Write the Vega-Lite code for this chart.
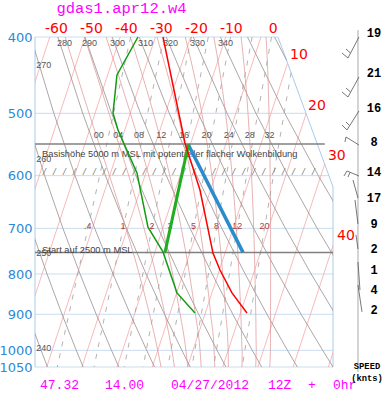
{
"$schema": "https://vega.github.io/schema/vega-lite/v6.json",
"width": 298, "height": 330,
"autosize": {"type": "none"},
"padding": {"left": 35, "top": 37, "right": 50, "bottom": 33},
"background": "white",
"config": {"view": {"stroke": null}},
"datasets": {
"grid": [{"P":400,"X":-33.32,"X2":35.71},{"P":500,"X":-33.32,"X2":43.71},{"P":600,"X":-33.32,"X2":50.17},{"P":700,"X":-33.32,"X2":51.34},{"P":800,"X":-33.32,"X2":51.34},{"P":900,"X":-33.32,"X2":51.34},{"P":1000,"X":-33.32,"X2":51.34},{"P":1050,"X":-33.32,"X2":51.34}],
"frame": [{"id":"r","P":400,"X":35.71},{"id":"r","P":620,"X":51.34},{"id":"r","P":1050,"X":51.34},{"id":"l","P":400,"X":-33.32},{"id":"l","P":1050,"X":-33.32}],
"iso": [{"id":-60,"P":1050,"X":-60},{"id":-60,"P":400,"X":-29.12},{"id":-50,"P":1050,"X":-50},{"id":-50,"P":400,"X":-19.12},{"id":-40,"P":1050,"X":-40},{"id":-40,"P":400,"X":-9.12},{"id":-30,"P":1050,"X":-30},{"id":-30,"P":400,"X":0.88},{"id":-20,"P":1050,"X":-20},{"id":-20,"P":400,"X":10.88},{"id":-10,"P":1050,"X":-10},{"id":-10,"P":400,"X":20.88},{"id":0,"P":1050,"X":0},{"id":0,"P":400,"X":30.88},{"id":10,"P":1050,"X":10},{"id":10,"P":431.8,"X":38.43},{"id":20,"P":1050,"X":20},{"id":20,"P":500.5,"X":43.71},{"id":30,"P":1050,"X":30},{"id":30,"P":580.3,"X":48.98},{"id":40,"P":1050,"X":40},{"id":40,"P":400,"X":70.88},{"id":50,"P":1050,"X":50},{"id":50,"P":400,"X":80.88}],
"dry": [
{"id":240,"P":1050,"X":-29.78},{"id":240,"P":1000,"X":-31.59},{"id":240,"P":900,"X":-35.34},
{"id":250,"P":1050,"X":-19.64},{"id":250,"P":1000,"X":-21.59},{"id":250,"P":900,"X":-25.64},{"id":250,"P":800,"X":-29.9},{"id":250,"P":700,"X":-34.42},
{"id":260,"P":1050,"X":-9.5},{"id":260,"P":1000,"X":-11.59},{"id":260,"P":900,"X":-15.93},{"id":260,"P":800,"X":-20.52},{"id":260,"P":700,"X":-25.39},{"id":260,"P":600,"X":-30.58},{"id":260,"P":500,"X":-36.17},
{"id":270,"P":1050,"X":0.64},{"id":270,"P":1000,"X":-1.59},{"id":270,"P":900,"X":-6.23},{"id":270,"P":800,"X":-11.14},{"id":270,"P":700,"X":-16.36},{"id":270,"P":600,"X":-21.94},{"id":270,"P":500,"X":-27.96},{"id":270,"P":400,"X":-34.51},
{"id":280,"P":1050,"X":10.78},{"id":280,"P":1000,"X":8.41},{"id":280,"P":900,"X":3.47},{"id":280,"P":800,"X":-1.76},{"id":280,"P":700,"X":-7.33},{"id":280,"P":600,"X":-13.3},{"id":280,"P":500,"X":-19.76},{"id":280,"P":400,"X":-26.81},
{"id":290,"P":1050,"X":20.92},{"id":290,"P":1000,"X":18.41},{"id":290,"P":900,"X":13.17},{"id":290,"P":800,"X":7.62},{"id":290,"P":700,"X":1.7},{"id":290,"P":600,"X":-4.66},{"id":290,"P":500,"X":-11.56},{"id":290,"P":400,"X":-19.12},
{"id":300,"P":1050,"X":31.07},{"id":300,"P":1000,"X":28.41},{"id":300,"P":900,"X":22.88},{"id":300,"P":800,"X":17.01},{"id":300,"P":700,"X":10.73},{"id":300,"P":600,"X":3.98},{"id":300,"P":500,"X":-3.36},{"id":300,"P":400,"X":-11.42},
{"id":310,"P":1050,"X":41.21},{"id":310,"P":1000,"X":38.41},{"id":310,"P":900,"X":32.58},{"id":310,"P":800,"X":26.39},{"id":310,"P":700,"X":19.76},{"id":310,"P":600,"X":12.62},{"id":310,"P":500,"X":4.84},{"id":310,"P":400,"X":-3.73},
{"id":320,"P":1050,"X":51.35},{"id":320,"P":1000,"X":48.41},{"id":320,"P":900,"X":42.28},{"id":320,"P":800,"X":35.77},{"id":320,"P":700,"X":28.79},{"id":320,"P":600,"X":21.26},{"id":320,"P":500,"X":13.04},{"id":320,"P":400,"X":3.97},
{"id":330,"P":1050,"X":61.49},{"id":330,"P":1000,"X":58.41},{"id":330,"P":900,"X":51.99},{"id":330,"P":800,"X":45.15},{"id":330,"P":700,"X":37.82},{"id":330,"P":600,"X":29.9},{"id":330,"P":500,"X":21.25},{"id":330,"P":400,"X":11.66},
{"id":340,"P":1000,"X":68.41},{"id":340,"P":900,"X":61.69},{"id":340,"P":800,"X":54.53},{"id":340,"P":700,"X":46.85},{"id":340,"P":600,"X":38.54},{"id":340,"P":500,"X":29.45},{"id":340,"P":400,"X":19.35},
{"id":350,"P":800,"X":63.91},{"id":350,"P":700,"X":55.88},{"id":350,"P":600,"X":47.18},{"id":350,"P":500,"X":37.65},{"id":350,"P":400,"X":27.05},
{"id":360,"P":428,"X":38.15},{"id":360,"P":400,"X":34.74}],
"moist": [
{"id":0,"P":1050,"X":2.5},{"id":0,"P":1000,"X":1.56},{"id":0,"P":900,"X":-0.78},{"id":0,"P":800,"X":-3.72},{"id":0,"P":700,"X":-7.47},{"id":0,"P":600,"X":-12.16},{"id":0,"P":500,"X":-17.96},{"id":0,"P":400,"X":-24.76},
{"id":4,"P":1050,"X":6.3},{"id":4,"P":1000,"X":5.56},{"id":4,"P":900,"X":3.57},{"id":4,"P":800,"X":1.01},{"id":4,"P":700,"X":-2.34},{"id":4,"P":600,"X":-6.69},{"id":4,"P":500,"X":-12.31},{"id":4,"P":400,"X":-19.25},
{"id":8,"P":1050,"X":10.1},{"id":8,"P":1000,"X":9.56},{"id":8,"P":900,"X":7.92},{"id":8,"P":800,"X":5.77},{"id":8,"P":700,"X":2.92},{"id":8,"P":600,"X":-0.99},{"id":8,"P":500,"X":-6.22},{"id":8,"P":400,"X":-13.12},
{"id":12,"P":1050,"X":13.9},{"id":12,"P":1000,"X":13.56},{"id":12,"P":900,"X":12.26},{"id":12,"P":800,"X":10.56},{"id":12,"P":700,"X":8.25},{"id":12,"P":600,"X":4.98},{"id":12,"P":500,"X":0.33},{"id":12,"P":400,"X":-6.22},
{"id":16,"P":1050,"X":17.75},{"id":16,"P":1000,"X":17.56},{"id":16,"P":900,"X":16.59},{"id":16,"P":800,"X":15.31},{"id":16,"P":700,"X":13.55},{"id":16,"P":600,"X":11.0},{"id":16,"P":500,"X":7.17},{"id":16,"P":400,"X":1.34},
{"id":20,"P":1050,"X":21.6},{"id":20,"P":1000,"X":21.56},{"id":20,"P":900,"X":20.9},{"id":20,"P":800,"X":20.01},{"id":20,"P":700,"X":18.78},{"id":20,"P":600,"X":16.94},{"id":20,"P":500,"X":14.08},{"id":20,"P":400,"X":9.38},
{"id":24,"P":1050,"X":25.5},{"id":24,"P":1000,"X":25.56},{"id":24,"P":900,"X":25.17},{"id":24,"P":800,"X":24.63},{"id":24,"P":700,"X":23.87},{"id":24,"P":600,"X":22.7},{"id":24,"P":500,"X":20.81},{"id":24,"P":400,"X":17.49},
{"id":28,"P":1050,"X":29.4},{"id":28,"P":1000,"X":29.56},{"id":28,"P":900,"X":29.4},{"id":28,"P":800,"X":29.17},{"id":28,"P":700,"X":28.81},{"id":28,"P":600,"X":28.21},{"id":28,"P":500,"X":27.19},{"id":28,"P":400,"X":25.23},
{"id":32,"P":1050,"X":33.35},{"id":32,"P":1000,"X":33.56},{"id":32,"P":900,"X":33.6},{"id":32,"P":800,"X":33.62},{"id":32,"P":700,"X":33.61},{"id":32,"P":600,"X":33.49},{"id":32,"P":500,"X":33.15},{"id":32,"P":400,"X":32.31}],
"mix": [
{"id":0.4,"P":1050,"X":-27.0},{"id":0.4,"P":700,"X":-18.3},{"id":0.4,"P":400,"X":-6.15},
{"id":1,"P":1050,"X":-16.55},{"id":1,"P":700,"X":-8.3},{"id":1,"P":400,"X":3.34},
{"id":2,"P":1050,"X":-7.95},{"id":2,"P":700,"X":-0.1},{"id":2,"P":400,"X":11.11},
{"id":3,"P":1050,"X":-2.63},{"id":3,"P":700,"X":5.0},{"id":3,"P":400,"X":15.91},
{"id":5,"P":1050,"X":4.42},{"id":5,"P":700,"X":11.73},{"id":5,"P":400,"X":22.24},
{"id":8,"P":1050,"X":11.25},{"id":8,"P":700,"X":18.25},{"id":8,"P":400,"X":28.36},
{"id":12,"P":1050,"X":17.41},{"id":12,"P":700,"X":24.12},{"id":12,"P":400,"X":33.87},
{"id":20,"P":1050,"X":25.54},{"id":20,"P":700,"X":31.86},{"id":20,"P":444,"X":39.43}],
"mixlab": [{"P":696,"X":-18.3,"t":".4"},{"P":696,"X":-8.3,"t":"1"},{"P":696,"X":-0.1,"t":"2"},{"P":696,"X":5.0,"t":"3"},{"P":696,"X":11.73,"t":"5"},{"P":696,"X":18.25,"t":"8"},{"P":696,"X":24.12,"t":"12"},{"P":696,"X":31.86,"t":"20"}],
"moistlab": [{"P":532,"X":-15.22,"t":"00"},{"P":532,"X":-9.65,"t":"04"},{"P":532,"X":-3.75,"t":"08"},{"P":532,"X":2.53,"t":"12"},{"P":532,"X":8.98,"t":"16"},{"P":532,"X":15.43,"t":"20"},{"P":532,"X":21.7,"t":"24"},{"P":532,"X":27.67,"t":"28"},{"P":532,"X":33.31,"t":"32"}],
"drylab": [{"P":407,"X":-27.07,"t":"280"},{"P":407,"X":-19.97,"t":"290"},{"P":407,"X":-12.02,"t":"300"},{"P":407,"X":-4.06,"t":"310"},{"P":407,"X":3.04,"t":"320"},{"P":407,"X":10.71,"t":"330"},{"P":407,"X":18.66,"t":"340"},{"P":434,"X":-33.0,"t":"270"},{"P":571,"X":-33.0,"t":"260"},{"P":752,"X":-33.0,"t":"250"},{"P":993,"X":-33.0,"t":"240"}],
"templab": [{"P":391,"X":-24.0,"t":"-60"},{"P":391,"X":-14.06,"t":"-50"},{"P":391,"X":-4.12,"t":"-40"},{"P":391,"X":5.82,"t":"-30"},{"P":391,"X":15.77,"t":"-20"},{"P":391,"X":25.71,"t":"-10"},{"P":391,"X":35.65,"t":"0"}],
"templab2": [{"P":421.6,"X":39.12,"t":"10"},{"P":489.4,"X":44.23,"t":"20"},{"P":566.5,"X":49.91,"t":"30"},{"P":715.7,"X":52.47,"t":"40"}],
"levels": [{"P":547,"X":-33.32,"X2":49.0},{"P":751,"X":-33.32,"X2":51.34}],
"notes": [{"P":563,"X":-31.3,"t":"Basishöhe 5000 m MSL mit potentieller flacher Wolkenbildung"},{"P":745,"X":-31.3,"t":"Start auf 2500 m MSL"}],
"slashes": [{"P":595,"X":-31.3,"t":"/ / / / / / / / / / / / / / / / / / / / / / / / / / / /"}],
"temp": [{"P":400,"X":3.04},{"P":545.3,"X":9.29},{"P":625.7,"X":13.55},{"P":752.2,"X":17.24},{"P":790.6,"X":19.23},{"P":845.6,"X":22.64},{"P":896.5,"X":26.9}],
"dew": [{"P":400,"X":-4.06},{"P":447,"X":-10.03},{"P":500,"X":-11.16},{"P":525,"X":-9.74},{"P":595.3,"X":-4.35},{"P":622,"X":-3.49},{"P":697.5,"X":-1.22},{"P":749.9,"X":3.04},{"P":845.6,"X":7.02},{"P":896.5,"X":12.13}],
"parcelw": [{"P":547,"X":10.3},{"P":751,"X":3.61}],
"parcelt": [{"P":547,"X":10.14},{"P":751,"X":25.77}],
"title": [{"P":367.5,"X":-8.75,"t":"gdas1.apr12.w4"}],
"foot": [{"P":1106,"X":-31.9,"t":"47.32"},{"P":1106,"X":-13.44,"t":"14.00"},{"P":1106,"X":5.31,"t":"04/27/2012"},{"P":1106,"X":32.87,"t":"12Z"},{"P":1106,"X":44.23,"t":"+"},{"P":1106,"X":51.34,"t":"0hr"}],
"windaxis": [{"P":392,"X":58.44,"P2":1065}],
"barbs": [
{"X":58.72,"P":400,"X2":55.6,"P2":425.3},{"X":55.6,"P":425.3,"X2":53.89,"P2":419.2},{"X":56.31,"P":419.2,"X2":55.03,"P2":414.3},
{"X":58.72,"P":449.6,"X2":55.6,"P2":476.7},{"X":55.6,"P":476.7,"X2":53.89,"P2":469.8},{"X":56.31,"P":469.8,"X2":55.03,"P2":464.3},
{"X":58.72,"P":496.6,"X2":55.31,"P2":525.0},{"X":55.31,"P":525.0,"X2":53.89,"P2":517.4},{"X":56.02,"P":518.1,"X2":55.03,"P2":512.9},
{"X":58.72,"P":548.6,"X2":55.03,"P2":535.9},{"X":55.03,"P":535.9,"X2":54.74,"P2":543.8},
{"X":58.72,"P":600.6,"X2":55.31,"P2":591.9},{"X":55.31,"P":591.9,"X2":54.46,"P2":600.6},{"X":56.16,"P":594.5,"X2":55.6,"P2":602.4},
{"X":58.44,"P":640.5,"X2":57.02,"P2":607.7},
{"X":58.44,"P":691.1,"X2":57.59,"P2":644.3},
{"X":58.44,"P":743.5,"X2":57.87,"P2":713.5},
{"X":58.44,"P":772.4,"X2":59.0,"P2":838.3},
{"X":58.44,"P":826.1,"X2":59.57,"P2":893.6}],
"windnum": [{"P":395.4,"X":62.98,"t":"19"},{"P":444.4,"X":62.98,"t":"21"},{"P":492.3,"X":62.98,"t":"16"},{"P":543.8,"X":62.98,"t":"8"},{"P":593.9,"X":62.98,"t":"14"},{"P":640.5,"X":62.98,"t":"17"},{"P":691.1,"X":62.98,"t":"9"},{"P":743.5,"X":62.98,"t":"2"},{"P":790.6,"X":62.98,"t":"1"},{"P":838.3,"X":62.98,"t":"4"},{"P":888.7,"X":62.98,"t":"2"}],
"speed": [{"P":1046.5,"X":61.0,"t":"SPEED"},{"P":1084,"X":61.0,"t":"(knts)"}]
},
"encoding": {
"x": {"field": "X", "type": "quantitative", "scale": {"domain": [-33.32, 51.34], "nice": false, "zero": false}, "axis": null},
"y": {"field": "P", "type": "quantitative", "scale": {"type": "log", "domain": [400, 1050], "reverse": true, "nice": false},
 "axis": {"values": [400,500,600,700,800,900,1000,1050], "format": "d", "labelColor": "#2a8ad6", "labelFont": "DejaVu Sans", "labelFontSize": 13, "domain": false, "ticks": false, "grid": false, "title": null, "labelPadding": 3, "labelOverlap": false, "labelBound": false}}
},
"layer": [
{"data": {"name": "grid"}, "mark": {"type": "rule", "color": "#c9ddef", "strokeWidth": 1}, "encoding": {"x2": {"field": "X2"}}},
{"data": {"name": "frame"}, "mark": {"type": "line", "color": "#a9cbea", "strokeWidth": 1}, "encoding": {"detail": {"field": "id"}, "order": {"field": "P", "type": "quantitative"}}},
{"data": {"name": "iso"}, "mark": {"type": "line", "color": "#f6a8a8", "strokeWidth": 0.8, "clip": true}, "encoding": {"detail": {"field": "id"}, "order": {"field": "P", "type": "quantitative"}}},
{"data": {"name": "dry"}, "mark": {"type": "line", "color": "#998f8f", "strokeWidth": 0.8, "clip": true}, "encoding": {"detail": {"field": "id"}, "order": {"field": "P", "type": "quantitative"}}},
{"data": {"name": "moist"}, "mark": {"type": "line", "color": "#dc9090", "strokeWidth": 0.7, "clip": true, "interpolate": "monotone"}, "encoding": {"detail": {"field": "id"}, "order": {"field": "P", "type": "quantitative"}}},
{"data": {"name": "mix"}, "mark": {"type": "line", "color": "#a0a0a0", "strokeWidth": 0.8, "strokeDash": [5, 7], "clip": true}, "encoding": {"detail": {"field": "id"}, "order": {"field": "P", "type": "quantitative"}}},
{"data": {"name": "slashes"}, "mark": {"type": "text", "align": "left", "baseline": "middle", "font": "Liberation Mono", "fontSize": 8.3, "color": "#777777"}, "encoding": {"text": {"field": "t"}}},
{"data": {"name": "levels"}, "mark": {"type": "rule", "color": "#808080", "strokeWidth": 1.5}, "encoding": {"x2": {"field": "X2"}}},
{"data": {"name": "mixlab"}, "mark": {"type": "text", "align": "center", "baseline": "middle", "font": "Liberation Sans", "fontSize": 9, "color": "#b04040"}, "encoding": {"text": {"field": "t"}}},
{"data": {"name": "moistlab"}, "mark": {"type": "text", "align": "center", "baseline": "middle", "font": "Liberation Sans", "fontSize": 9, "color": "#555555"}, "encoding": {"text": {"field": "t"}}},
{"data": {"name": "drylab"}, "mark": {"type": "text", "align": "left", "baseline": "middle", "font": "Liberation Sans", "fontSize": 9, "color": "#555555"}, "encoding": {"text": {"field": "t"}}},
{"data": {"name": "notes"}, "mark": {"type": "text", "align": "left", "baseline": "middle", "font": "Liberation Sans", "fontSize": 9.3, "color": "#444444"}, "encoding": {"text": {"field": "t"}}},
{"data": {"name": "parcelt"}, "mark": {"type": "line", "color": "#2a8ccc", "strokeWidth": 3.5}, "encoding": {"order": {"field": "P", "type": "quantitative"}}},
{"data": {"name": "parcelw"}, "mark": {"type": "line", "color": "#1fae1f", "strokeWidth": 3}, "encoding": {"order": {"field": "P", "type": "quantitative"}}},
{"data": {"name": "temp"}, "mark": {"type": "line", "color": "#ff0000", "strokeWidth": 1.5}, "encoding": {"order": {"field": "P", "type": "quantitative"}}},
{"data": {"name": "dew"}, "mark": {"type": "line", "color": "#109e10", "strokeWidth": 1.5}, "encoding": {"order": {"field": "P", "type": "quantitative"}}},
{"data": {"name": "templab"}, "mark": {"type": "text", "align": "right", "baseline": "middle", "font": "DejaVu Sans", "fontSize": 14, "color": "#ff0000"}, "encoding": {"text": {"field": "t"}}},
{"data": {"name": "templab2"}, "mark": {"type": "text", "align": "left", "baseline": "middle", "font": "DejaVu Sans", "fontSize": 14, "color": "#ff0000"}, "encoding": {"text": {"field": "t"}}},
{"data": {"name": "title"}, "mark": {"type": "text", "align": "center", "baseline": "middle", "font": "Liberation Mono", "fontSize": 15.5, "color": "#ff00ff"}, "encoding": {"text": {"field": "t"}}},
{"data": {"name": "foot"}, "mark": {"type": "text", "align": "left", "baseline": "middle", "font": "Liberation Mono", "fontSize": 13, "color": "#ff00ff"}, "encoding": {"text": {"field": "t"}}},
{"data": {"name": "windaxis"}, "mark": {"type": "rule", "color": "#aaaaaa", "strokeWidth": 1}, "encoding": {"y2": {"field": "P2"}}},
{"data": {"name": "barbs"}, "mark": {"type": "rule", "color": "#555555", "strokeWidth": 0.8}, "encoding": {"x2": {"field": "X2"}, "y2": {"field": "P2"}}},
{"data": {"name": "windnum"}, "mark": {"type": "text", "align": "center", "baseline": "middle", "font": "Liberation Mono", "fontSize": 12, "fontWeight": "bold", "color": "#000000"}, "encoding": {"text": {"field": "t"}}},
{"data": {"name": "speed"}, "mark": {"type": "text", "align": "center", "baseline": "middle", "font": "Liberation Mono", "fontSize": 8.8, "fontWeight": "bold", "color": "#000000"}, "encoding": {"text": {"field": "t"}}}
]
}
